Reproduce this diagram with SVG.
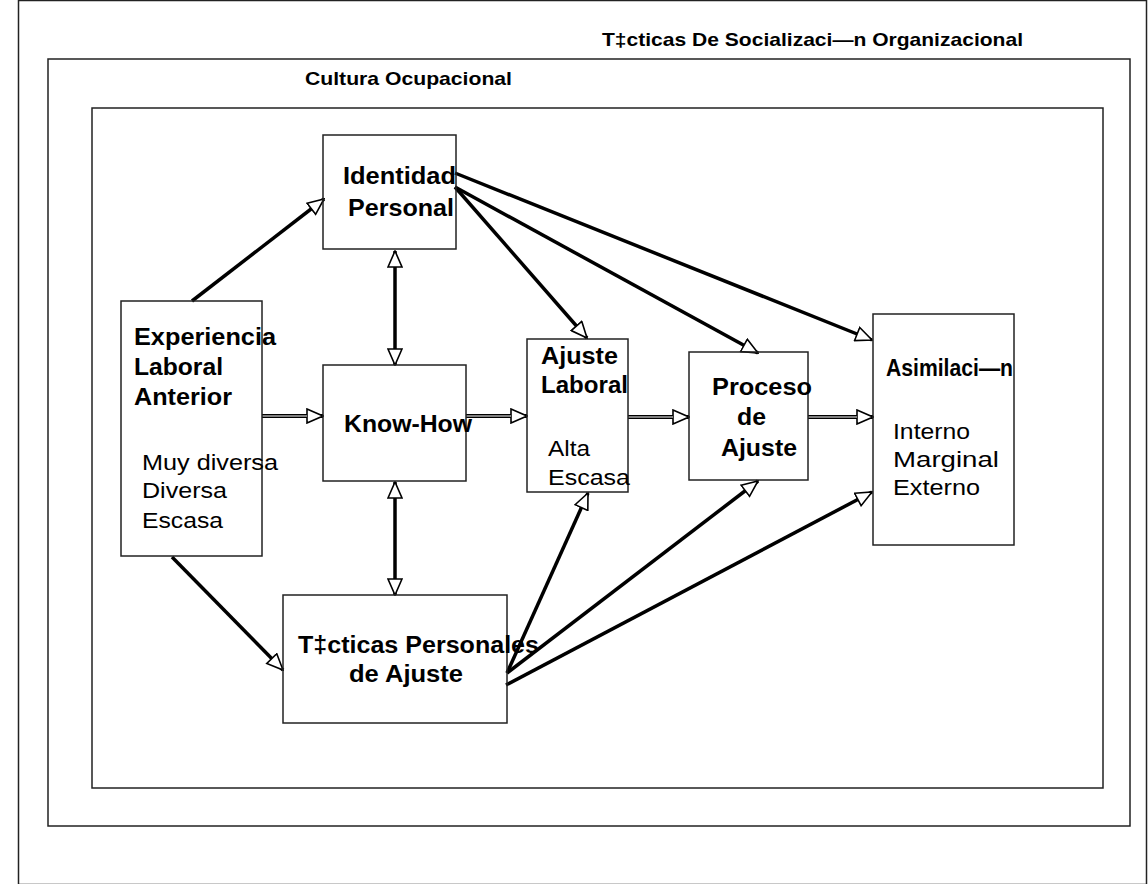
<svg xmlns="http://www.w3.org/2000/svg" width="1148" height="884" viewBox="0 0 1148 884">
<style>
.frame{fill:none;stroke:#222;stroke-width:1.5}
.box{fill:none;stroke:#222;stroke-width:1.5}
.b{font-family:"Liberation Sans",Arial,sans-serif;font-weight:bold;font-size:23.5px;fill:#000}
.r{font-family:"Liberation Sans",Arial,sans-serif;font-size:21.5px;fill:#000}
.t{font-family:"Liberation Sans",Arial,sans-serif;font-weight:bold;font-size:18.5px;fill:#000}
.c{fill:none;stroke:#000;stroke-width:3.5}
.d{fill:none;stroke:#000;stroke-width:4.2}
.w{fill:none;stroke:#fff;stroke-width:1}
.arr{marker-end:url(#ah)}
.bi{marker-end:url(#ah);marker-start:url(#ahs)}
</style>
<defs>
<marker id="ah" viewBox="0 0 18 16" refX="17" refY="8" markerWidth="18" markerHeight="16" markerUnits="userSpaceOnUse" orient="auto">
<path d="M1,1 L17,8 L1,15 Z" fill="#fff" stroke="#000" stroke-width="1.6"/>
</marker>
<marker id="ahs" viewBox="0 0 18 16" refX="17" refY="8" markerWidth="18" markerHeight="16" markerUnits="userSpaceOnUse" orient="auto-start-reverse">
<path d="M1,1 L17,8 L1,15 Z" fill="#fff" stroke="#000" stroke-width="1.6"/>
</marker>
</defs>
<rect width="1148" height="884" fill="#fff"/>
<g id="frames">
<rect class="frame" x="18.5" y="0.5" width="1128" height="884"/>
<rect class="frame" x="48" y="59" width="1082" height="767"/>
<rect class="frame" x="92" y="108" width="1011" height="680"/>
<text class="t" x="602" y="46" textLength="421" lengthAdjust="spacingAndGlyphs">T‡cticas De Socializaci—n Organizacional</text>
<text class="t" x="305" y="85" textLength="207" lengthAdjust="spacingAndGlyphs">Cultura Ocupacional</text>
</g>
<g id="connectors">
<line class="c arr" x1="192" y1="301" x2="324" y2="199"/>
<line class="c arr" x1="172" y1="557" x2="283" y2="670"/>
<line class="c bi" x1="395" y1="251" x2="395" y2="365"/>
<line class="c bi" x1="395" y1="482" x2="395" y2="595"/>
<line class="c arr" x1="455" y1="173" x2="872" y2="340"/>
<line class="c arr" x1="455" y1="187" x2="587" y2="338"/>
<line class="c arr" x1="455" y1="187" x2="758" y2="353"/>
<line class="c arr" x1="507" y1="673" x2="588" y2="493"/>
<line class="c arr" x1="507" y1="673" x2="758" y2="481"/>
<line class="c arr" x1="506" y1="685" x2="872" y2="492"/>
<line class="d arr" x1="262" y1="416" x2="323" y2="416"/>
<line class="w" x1="262" y1="416" x2="307" y2="416"/>
<line class="d arr" x1="466" y1="416" x2="527" y2="416"/>
<line class="w" x1="466" y1="416" x2="511" y2="416"/>
<line class="d arr" x1="628" y1="417" x2="689" y2="417"/>
<line class="w" x1="628" y1="417" x2="673" y2="417"/>
<line class="d arr" x1="808" y1="417" x2="873" y2="417"/>
<line class="w" x1="808" y1="417" x2="857" y2="417"/>
</g>
<g id="identidad">
<rect class="box" x="323" y="135" width="133" height="114"/>
<text class="b" x="343" y="184" textLength="113" lengthAdjust="spacingAndGlyphs">Identidad</text>
<text class="b" x="348" y="216" textLength="106" lengthAdjust="spacingAndGlyphs">Personal</text>
</g>
<g id="experiencia">
<rect class="box" x="121" y="301" width="141" height="255"/>
<text class="b" x="134" y="345" textLength="142" lengthAdjust="spacingAndGlyphs">Experiencia</text>
<text class="b" x="134" y="375" textLength="89" lengthAdjust="spacingAndGlyphs">Laboral</text>
<text class="b" x="134" y="405" textLength="98" lengthAdjust="spacingAndGlyphs">Anterior</text>
<text class="r" x="142" y="470" textLength="136" lengthAdjust="spacingAndGlyphs">Muy diversa</text>
<text class="r" x="142" y="498" textLength="85" lengthAdjust="spacingAndGlyphs">Diversa</text>
<text class="r" x="142" y="528" textLength="81" lengthAdjust="spacingAndGlyphs">Escasa</text>
</g>
<g id="knowhow">
<rect class="box" x="323" y="365" width="143" height="116"/>
<text class="b" x="344" y="432" textLength="128" lengthAdjust="spacingAndGlyphs">Know-How</text>
</g>
<g id="ajustelaboral">
<rect class="box" x="527" y="339" width="101" height="153"/>
<text class="b" x="541" y="364" textLength="77" lengthAdjust="spacingAndGlyphs">Ajuste</text>
<text class="b" x="541" y="393" textLength="87" lengthAdjust="spacingAndGlyphs">Laboral</text>
<text class="r" x="548" y="456" textLength="42" lengthAdjust="spacingAndGlyphs">Alta</text>
<text class="r" x="548" y="485" textLength="82" lengthAdjust="spacingAndGlyphs">Escasa</text>
</g>
<g id="proceso">
<rect class="box" x="689" y="352" width="119" height="128"/>
<text class="b" x="712" y="395" textLength="100" lengthAdjust="spacingAndGlyphs">Proceso</text>
<text class="b" x="737" y="425" textLength="29" lengthAdjust="spacingAndGlyphs">de</text>
<text class="b" x="721" y="456" textLength="76" lengthAdjust="spacingAndGlyphs">Ajuste</text>
</g>
<g id="asimilacion">
<rect class="box" x="873" y="314" width="141" height="231"/>
<text class="b" x="886" y="376" textLength="127" lengthAdjust="spacingAndGlyphs">Asimilaci—n</text>
<text class="r" x="893" y="439" textLength="77" lengthAdjust="spacingAndGlyphs">Interno</text>
<text class="r" x="893" y="467" textLength="106" lengthAdjust="spacingAndGlyphs">Marginal</text>
<text class="r" x="893" y="495" textLength="87" lengthAdjust="spacingAndGlyphs">Externo</text>
</g>
<g id="tacticas">
<rect class="box" x="283" y="595" width="224" height="128"/>
<text class="b" x="298" y="653" textLength="241" lengthAdjust="spacingAndGlyphs">T‡cticas Personales</text>
<text class="b" x="349" y="682" textLength="114" lengthAdjust="spacingAndGlyphs">de Ajuste</text>
</g>
</svg>
